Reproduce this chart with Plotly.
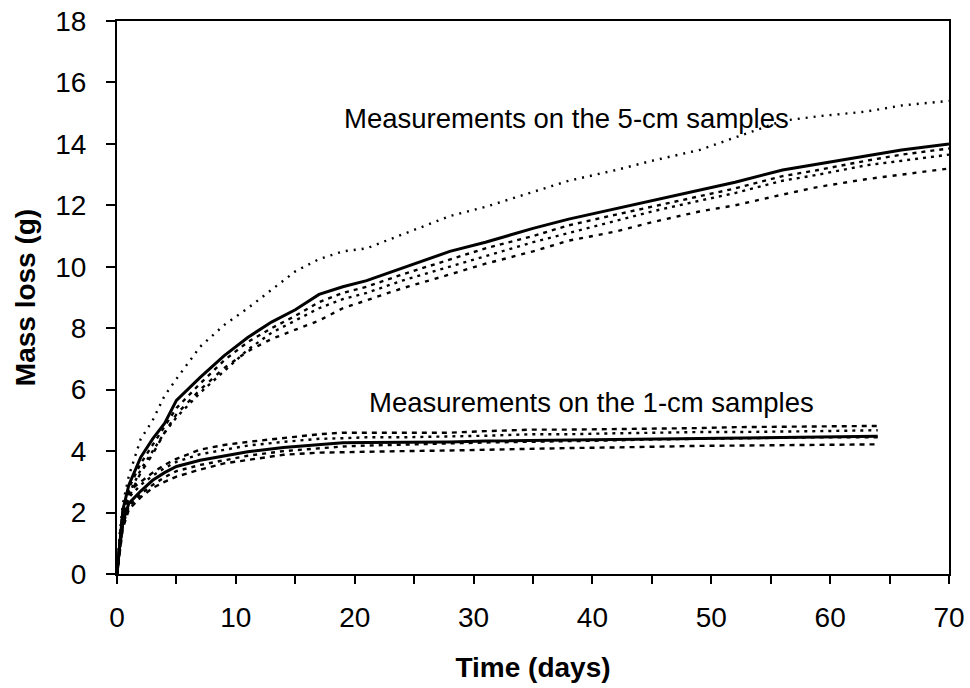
import plotly.graph_objects as go

# ---- data ----
t5 = [0, 0.25, 0.5, 1, 2, 3, 4, 5, 7, 9, 11, 13, 15, 17, 19, 21, 24, 28, 31, 35,
      38, 42, 45, 49, 52, 56, 59, 63, 66, 70]
m5_solid = [0, 1.2, 2.1, 2.9, 3.8, 4.4, 4.9, 5.65, 6.4, 7.1, 7.7, 8.2, 8.6, 9.1, 9.35,
            9.55, 9.95, 10.5, 10.8, 11.25, 11.55, 11.9, 12.15, 12.5, 12.75, 13.15, 13.35,
            13.6, 13.8, 14.0]
m5_s1 = [0, 1.4, 2.3, 3.2, 4.4, 5.0, 5.8, 6.35, 7.4, 8.1, 8.65, 9.25, 9.85, 10.25, 10.5,
         10.6, 11.05, 11.65, 11.95, 12.45, 12.8, 13.15, 13.45, 13.8, 14.2, 14.75, 14.9,
         15.05, 15.25, 15.4]
m5_s2 = [0, 1.1, 2.0, 2.8, 3.6, 4.2, 4.8, 5.4, 6.2, 6.95, 7.55, 8.0, 8.4, 8.85, 9.15,
         9.35, 9.75, 10.25, 10.6, 11.0, 11.35, 11.7, 11.95, 12.3, 12.55, 12.95, 13.15,
         13.45, 13.65, 13.85]
m5_s3 = [0, 1.0, 1.9, 2.6, 3.4, 4.0, 4.6, 5.1, 5.9, 6.6, 7.3, 7.85, 8.25, 8.65, 8.95,
         9.15, 9.55, 10.0, 10.35, 10.8, 11.1, 11.5, 11.8, 12.15, 12.4, 12.8, 13.0,
         13.3, 13.45, 13.65]
m5_s4 = [0, 1.0, 1.8, 2.5, 3.3, 3.9, 4.6, 5.2, 6.0, 6.7, 7.25, 7.65, 7.95, 8.25, 8.65,
         8.9, 9.3, 9.75, 10.1, 10.5, 10.85, 11.15, 11.45, 11.8, 12.0, 12.35, 12.6,
         12.85, 13.0, 13.2]

t1 = [0, 0.25, 0.5, 1, 2, 3, 4, 5, 7, 9, 11, 14, 17, 19, 21, 24, 28, 31, 35, 38, 42,
      45, 49, 52, 56, 59, 64]
m1_solid = [0, 1.0, 1.7, 2.3, 2.7, 3.05, 3.3, 3.5, 3.7, 3.85, 3.98, 4.12, 4.22, 4.27,
            4.28, 4.28, 4.3, 4.33, 4.35, 4.37, 4.38, 4.4, 4.42, 4.43, 4.45, 4.46, 4.48]
m1_s1 = [0, 1.3, 2.1, 2.7, 3.0, 3.3, 3.55, 3.75, 4.05, 4.2, 4.3, 4.42, 4.55, 4.6, 4.6,
         4.58, 4.6, 4.65, 4.7, 4.7, 4.72, 4.72, 4.75, 4.78, 4.8, 4.8, 4.82]
m1_s2 = [0, 1.2, 1.9, 2.5, 2.9, 3.2, 3.45, 3.65, 3.9, 4.05, 4.18, 4.3, 4.4, 4.42, 4.45,
         4.45, 4.47, 4.5, 4.55, 4.55, 4.58, 4.6, 4.62, 4.62, 4.65, 4.65, 4.68]
m1_s3 = [0, 0.9, 1.6, 2.2, 2.6, 2.9, 3.15, 3.35, 3.55, 3.7, 3.85, 4.0, 4.1, 4.15, 4.18,
         4.2, 4.25, 4.28, 4.3, 4.32, 4.35, 4.38, 4.4, 4.42, 4.42, 4.45, 4.45]
m1_s4 = [0, 0.8, 1.5, 2.1, 2.5, 2.8, 3.0, 3.17, 3.4, 3.6, 3.72, 3.88, 3.95, 3.97, 3.98,
         4.0, 4.02, 4.05, 4.08, 4.1, 4.12, 4.15, 4.17, 4.18, 4.2, 4.2, 4.22]

label_5cm = "Measurements on the 5-cm samples"
label_1cm = "Measurements on the 1-cm samples"
x_title = "Time (days)"
y_title = "Mass loss (g)"

FONT = "Liberation Sans, Arial, sans-serif"

fig = go.Figure()

for series, d in zip([m5_s1, m5_s2, m5_s3, m5_s4], ["2px,6px", "4px,5px", "3px,5px", "4px,6px"]):
    fig.add_trace(go.Scatter(x=t5, y=series, mode="lines",
                             line=dict(color="black", width=2.4, dash=d),
                             hoverinfo="skip", showlegend=False))
for series, d in zip([m1_s1, m1_s2, m1_s3, m1_s4], ["5px,5px", "3px,5px", "4px,5px", "5px,5px"]):
    fig.add_trace(go.Scatter(x=t1, y=series, mode="lines",
                             line=dict(color="black", width=2.4, dash=d),
                             hoverinfo="skip", showlegend=False))

fig.add_trace(go.Scatter(x=t5, y=m5_solid, mode="lines",
                         line=dict(color="black", width=3), showlegend=False))
fig.add_trace(go.Scatter(x=t1, y=m1_solid, mode="lines",
                         line=dict(color="black", width=3), showlegend=False))

fig.add_annotation(x=18.9, y=14.84, text=label_5cm, showarrow=False,
                   xanchor="left", yanchor="middle",
                   font=dict(family=FONT, size=27.5, color="black"))
fig.add_annotation(x=21.0, y=5.57, text=label_1cm, showarrow=False,
                   xanchor="left", yanchor="middle",
                   font=dict(family=FONT, size=27.5, color="black"))

fig.update_layout(
    width=970, height=688,
    margin=dict(l=117, r=21, t=21, b=114, autoexpand=False),
    paper_bgcolor="white", plot_bgcolor="white",
    font=dict(family=FONT, color="black"),
    showlegend=False,
)

fig.update_xaxes(
    range=[0, 70], dtick=10, tick0=0, automargin=False,
    showgrid=False, zeroline=False,
    showline=True, linecolor="black", linewidth=2, mirror=True,
    ticks="outside", ticklen=8, tickwidth=1.5, tickcolor="black",
    minor=dict(dtick=5, ticks="outside", ticklen=8, tickwidth=1.5, tickcolor="black"),
    tickfont=dict(family=FONT, size=28, color="black"),
    ticklabelstandoff=9, ticklabeloverflow="allow",
    title=dict(text="<b>" + x_title + "</b>",
               font=dict(family=FONT, size=28, color="black"), standoff=26),
)
fig.update_yaxes(
    range=[0, 18], dtick=2, tick0=0, automargin=False,
    showgrid=False, zeroline=False,
    showline=True, linecolor="black", linewidth=2, mirror=True,
    ticks="outside", ticklen=9, tickwidth=1.5, tickcolor="black",
    tickfont=dict(family=FONT, size=28, color="black"),
    ticklabelstandoff=14, ticklabeloverflow="allow",
    title=dict(text="<b>" + y_title + "</b>",
               font=dict(family=FONT, size=28, color="black"), standoff=11),
)

# remove the browser's default 8px page margin so the 970x688 figure fills the window
fig.write_html("out.html",
               config={"displayModeBar": False},
               post_script="document.body.style.margin='0px';document.body.style.overflow='hidden';")
